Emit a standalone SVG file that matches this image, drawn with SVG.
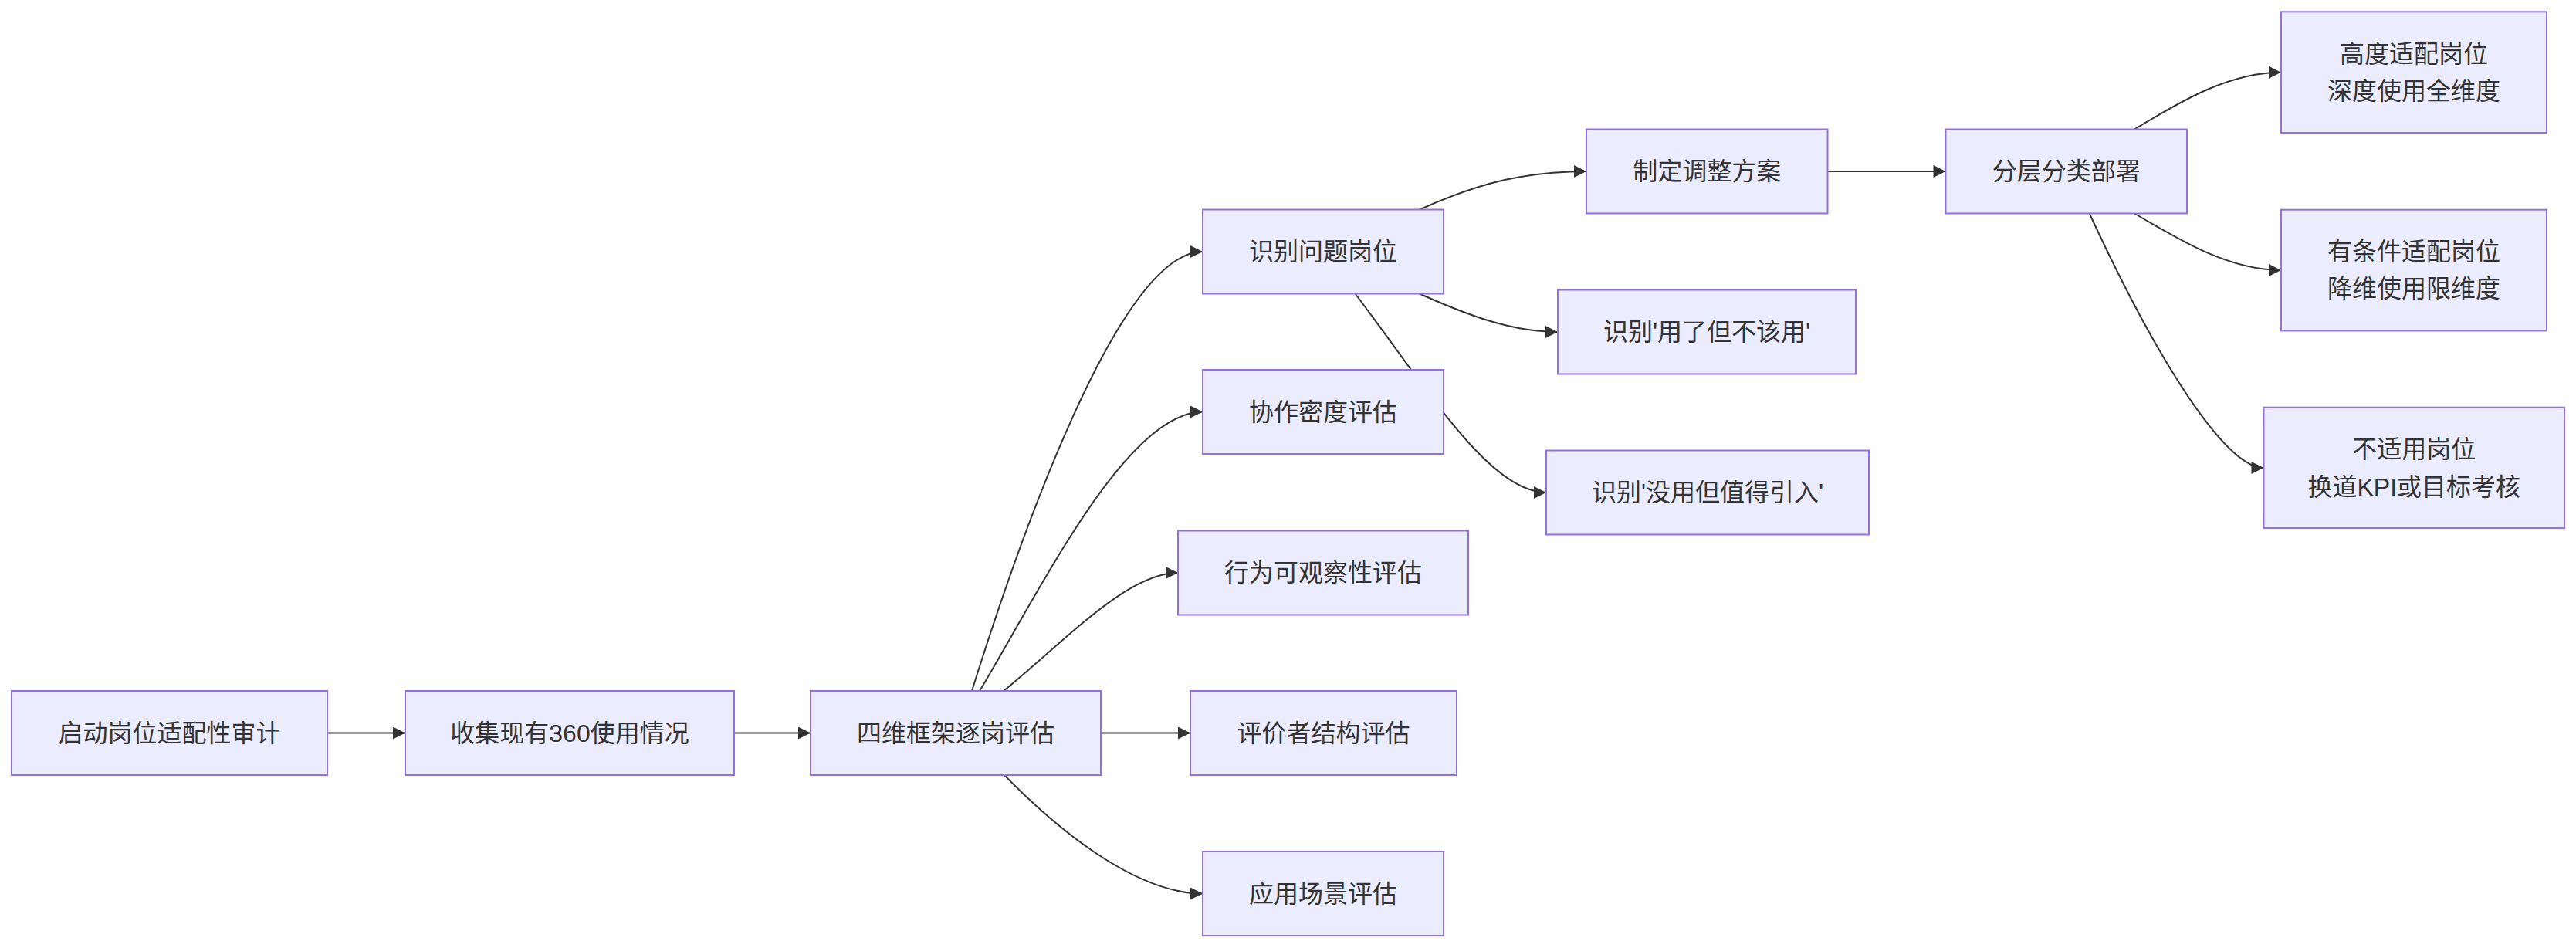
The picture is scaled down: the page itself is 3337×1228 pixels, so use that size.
<svg xmlns="http://www.w3.org/2000/svg" width="3337" height="1228" viewBox="0 0 3337 1228">
<defs>
<marker id="arrow" viewBox="0 0 10 10" refX="10" refY="5" markerUnits="userSpaceOnUse" markerWidth="17" markerHeight="16" orient="auto">
<path d="M0,0 L10,5 L0,10 z" fill="#333333"/>
</marker>
<style>
.edge{fill:none;stroke:#333333;stroke-width:2;marker-end:url(#arrow);}
.node rect{fill:#ECECFF;stroke:#9370DB;stroke-width:2;}
.node text{font-family:"Liberation Sans","Noto Sans CJK SC",sans-serif;font-size:32px;fill:#333333;text-anchor:middle;}
</style>
</defs>
<rect x="0" y="0" width="3337" height="1228" fill="#ffffff"/>
<g id="edges">
<path class="edge" d="M424,949.5 L525,949.5"/>
<path class="edge" d="M951,949.5 L1050,949.5"/>
<path class="edge" d="M1259,895 C1320,700 1450,326 1558,326"/>
<path class="edge" d="M1269,895 C1350,760 1460,533.5 1558,533.5"/>
<path class="edge" d="M1300,895 C1380,830 1460,742 1526,742"/>
<path class="edge" d="M1426,949.5 L1542,949.5"/>
<path class="edge" d="M1301,1004 C1385,1090 1480,1157.5 1558,1157.5"/>
<path class="edge" d="M1839,271.5 C1920,235 1980,222 2055,222"/>
<path class="edge" d="M1839,380.5 C1905,410 1960,430 2018,430"/>
<path class="edge" d="M1755.6,380.5 C1850,505 1930,638 2003,638"/>
<path class="edge" d="M2367.5,222 L2520.5,222"/>
<path class="edge" d="M2765,167.5 C2830,128 2890,93.7 2955,93.7"/>
<path class="edge" d="M2765,276.5 C2830,315 2890,350 2955,350"/>
<path class="edge" d="M2706.7,276.5 C2810,500 2890,606 2932.5,606"/>
</g>
<g id="node-A" class="node"><rect x="15" y="895" width="409" height="109"/><text x="219.5" y="960.5">启动岗位适配性审计</text></g>
<g id="node-B" class="node"><rect x="525" y="895" width="426" height="109"/><text x="738" y="960.5">收集现有360使用情况</text></g>
<g id="node-C" class="node"><rect x="1050" y="895" width="376" height="109"/><text x="1238" y="960.5">四维框架逐岗评估</text></g>
<g id="node-D" class="node"><rect x="1542" y="895" width="345" height="109"/><text x="1714.5" y="960.5">评价者结构评估</text></g>
<g id="node-E" class="node"><rect x="1558" y="1103" width="312" height="109"/><text x="1714" y="1168.5">应用场景评估</text></g>
<g id="node-F" class="node"><rect x="1558" y="271.5" width="312" height="109"/><text x="1714" y="337">识别问题岗位</text></g>
<g id="node-G" class="node"><rect x="1558" y="479" width="312" height="109"/><text x="1714" y="544.5">协作密度评估</text></g>
<g id="node-J" class="node"><rect x="1526" y="687.5" width="376" height="109"/><text x="1714" y="753">行为可观察性评估</text></g>
<g id="node-H" class="node"><rect x="2018" y="375.5" width="386" height="109"/><text x="2211" y="441">识别'用了但不该用'</text></g>
<g id="node-I" class="node"><rect x="2003" y="583.5" width="418" height="109"/><text x="2212" y="649">识别'没用但值得引入'</text></g>
<g id="node-K" class="node"><rect x="2055" y="167.5" width="312.5" height="109"/><text x="2211.25" y="233">制定调整方案</text></g>
<g id="node-L" class="node"><rect x="2520.5" y="167.5" width="312.5" height="109"/><text x="2676.75" y="233">分层分类部署</text></g>
<g id="node-M" class="node"><rect x="2955" y="15.3" width="344" height="156.7"/><text x="3127" y="81">高度适配岗位</text><text x="3127" y="128.5">深度使用全维度</text></g>
<g id="node-N" class="node"><rect x="2955" y="271.7" width="344" height="156.7"/><text x="3127" y="337">有条件适配岗位</text><text x="3127" y="385">降维使用限维度</text></g>
<g id="node-O" class="node"><rect x="2932.5" y="527.7" width="389.5" height="156.3"/><text x="3127.25" y="592.7">不适用岗位</text><text x="3127.25" y="641.8">换道KPI或目标考核</text></g>
</svg>
